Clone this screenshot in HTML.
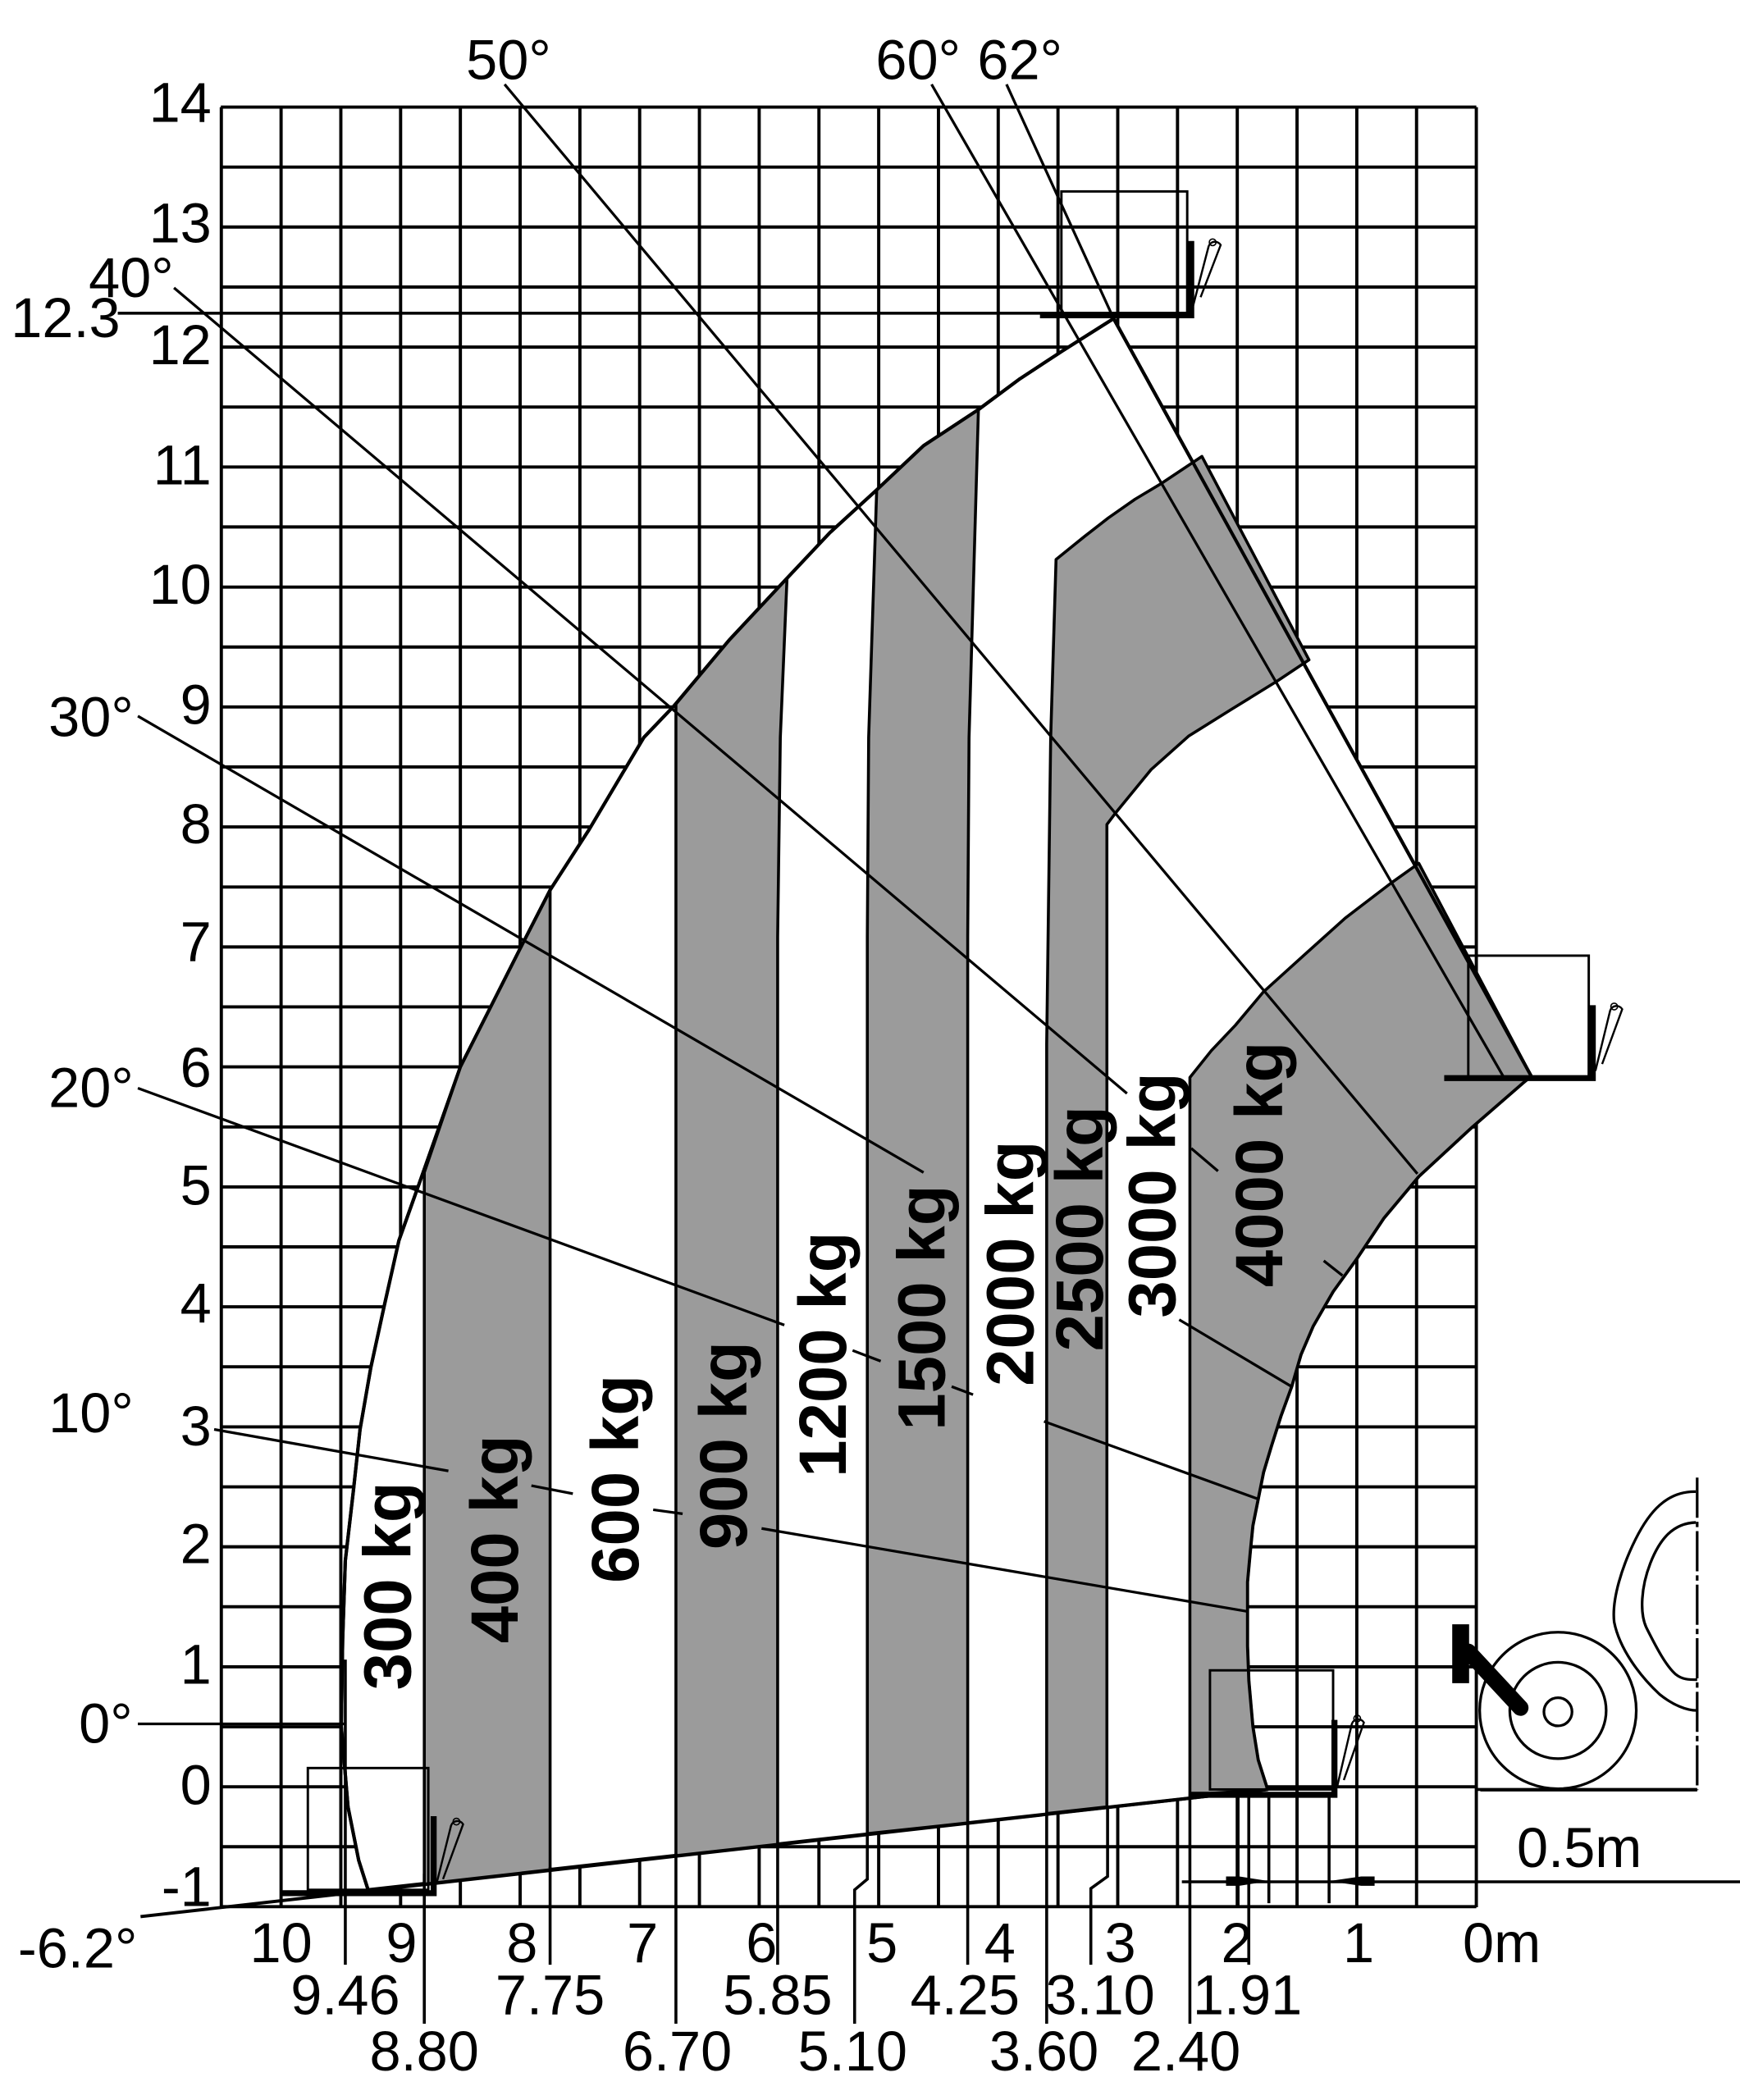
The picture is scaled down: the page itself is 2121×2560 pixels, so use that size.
<!DOCTYPE html>
<html><head><meta charset="utf-8"><style>html,body{margin:0;padding:0;background:#fff}svg{display:block}</style></head>
<body>
<svg width="2121" height="2560" viewBox="0 0 1300 1569" xmlns="http://www.w3.org/2000/svg" font-family="'Liberation Sans', sans-serif">
<rect width="1300" height="1569" fill="#fff"/>
<g stroke="#000" stroke-width="2.4">
<path d="M1103 80V1425M1058.35 80V1425M1013.7 80V1425M969.05 80V1425M924.4 80V1425M879.75 80V1425M835.1 80V1425M790.45 80V1425M745.8 80V1425M701.15 80V1425M656.5 80V1425M611.85 80V1425M567.2 80V1425M522.55 80V1425M477.9 80V1425M433.25 80V1425M388.6 80V1425M343.95 80V1425M299.3 80V1425M254.65 80V1425M210 80V1425M165.35 80V1425"/>
<path d="M165 80H1103M165 124.8H1103M165 169.6H1103M165 214.4H1103M165 259.3H1103M165 304.1H1103M165 348.9H1103M165 393.7H1103M165 438.6H1103M165 483.4H1103M165 528.2H1103M165 573H1103M165 617.8H1103M165 662.7H1103M165 707.5H1103M165 752.3H1103M165 797.1H1103M165 842H1103M165 886.8H1103M165 931.6H1103M165 976.4H1103M165 1021.2H1103M165 1066.1H1103M165 1110.9H1103M165 1155.7H1103M165 1200.5H1103M165 1245.4H1103M165 1290.2H1103M165 1335H1103M165 1379.8H1103M165 1424.6H1103"/>
</g>
<path d="M88 234H888" stroke="#000" stroke-width="2.2"/>
<path d="M1103 1337H1268" stroke="#000" stroke-width="2.2"/>
<path d="M275 1412 L268 1390 L260 1350 L255 1290 L256 1225 L258 1166 L264 1114 L269 1068 L277 1022 L287 976 L298 927 L314 882 L344 797 L390 706 L411 665 L440 620 L481 551 L503 528 L545 478 L588 432 L620 398 L655 366 L690 333 L731 306 L762 283 L794 262 L832 238 L1144 804 L1138 809 L1100 842 L1060 879 L1034 910 L1014 940 L996 965 L981 991 L972 1012 L965 1036 L957 1058 L950 1080 L944 1100 L940 1120 L936 1140 L934 1160 L932 1182 L932 1204 L932 1230 L933 1256 L936 1290 L940 1315 L947 1337 Z" fill="#fff" stroke="#000" stroke-width="2.5" stroke-linejoin="round"/>
<g fill="#9b9b9b" stroke="#000" stroke-width="2.2" stroke-linejoin="round">
<path d="M317 1407.7 L317 876 L344 797 L390 706 L411 665 L411 1397 Z"/>
<path d="M505 1386.5 L505 526 L545 478 L588 432 L583 551 L581 700 L581 1378 Z"/>
<path d="M648 1370 L648 700 L649 551 L655 366 L690 333 L731 306 L724 551 L723 700 L723 1362 Z"/>
<path d="M782 1355 L782 780 L785 551 L789 418 L810 401 L828 387 L848 373 L868 361 L898 341 L978 493 L954 509 L920 530 L888 550 L860 575 L833 608 L827 616 L827 1350 Z"/>
<path d="M889 1341 L889 805 L905 785 L923 766 L944 741 L975 713 L1005 686 L1039 660 L1060 645 L1144 804 L1138 809 L1100 842 L1060 879 L1034 910 L1014 940 L996 965 L981 991 L972 1012 L965 1036 L957 1058 L950 1080 L944 1100 L940 1120 L936 1140 L934 1160 L932 1182 L932 1204 L932 1230 L933 1256 L936 1290 L940 1315 L947 1337 Z"/>
</g>
<path d="M275 1412 L268 1390 L260 1350 L255 1290 L256 1225 L258 1166 L264 1114 L269 1068 L277 1022 L287 976 L298 927 L314 882 L344 797 L390 706 L411 665 L440 620 L481 551 L503 528 L545 478 L588 432 L620 398 L655 366 L690 333 L731 306 L762 283 L794 262 L832 238 L1144 804" fill="none" stroke="#000" stroke-width="2.5" stroke-linejoin="round"/>
<path d="M105 1432 L947 1337" stroke="#000" stroke-width="2.4"/>
<g stroke="#000" stroke-width="2" fill="none">
<path d="M103 1288H258"/>
<path d="M160 1068 L335 1099 M397 1110 L428 1116 M488 1128 L510 1131 M569 1142 L932 1204"/>
<path d="M103 813 L586 990 M637 1009 L658 1017 M711 1036 L727 1042 M780 1062 L940 1120"/>
<path d="M103 535 L690 876 M881 986 L965 1036"/>
<path d="M130 215 L842 817 M890 858 L910 875 M989 942 L1003 953"/>
<path d="M377 63 L1059 877"/>
<path d="M696 63 L1123 804"/>
<path d="M752 63 L832 238"/>
</g>
<g stroke="#000" stroke-width="2.2" fill="none">
<path d="M258 1240V1468"/>
<path d="M317 1400V1512"/>
<path d="M411 1395V1468"/>
<path d="M505 1385V1512"/>
<path d="M581 1378V1468"/>
<path d="M648 1370V1404L638.5 1412V1512"/>
<path d="M723 1362V1468"/>
<path d="M782 1355V1512"/>
<path d="M827.5 1350V1402L815 1411V1468"/>
<path d="M889 1341V1512"/>
<path d="M925 1341V1425"/>
<path d="M933 1341V1468"/>
<path d="M948 1341V1422"/>
<path d="M993 1341V1422"/>
<path d="M883 1406H1300"/>
</g>
<path d="M916 1402H926L948 1405.5L926 1409H916Z" fill="#000"/>
<path d="M1027 1402H1017L993 1405.5L1017 1409H1027Z" fill="#000"/>
<g fill="none" stroke="#000">
<rect x="793" y="143" width="94" height="92" stroke-width="1.8"/>
<path d="M777 235.5H890V180" stroke-width="4.5"/>
<path d="M891 230 L903 184 A5 5 0 0 1 912 183 L897 222" stroke-width="1.5"/>
<circle cx="906" cy="181" r="2.5" stroke-width="1"/>
<rect x="1097" y="714" width="90" height="91" stroke-width="1.8"/>
<path d="M1079 805.5H1190V751" stroke-width="4.5"/>
<path d="M1192 800 L1203 755 A5 5 0 0 1 1212 754 L1197 795" stroke-width="1.5"/>
<circle cx="1206" cy="752" r="2.5" stroke-width="1"/>
<rect x="230" y="1321" width="90" height="91" stroke-width="1.8"/>
<path d="M210 1414.5H324V1357" stroke-width="4.5"/>
<path d="M326 1408 L337 1364 A5 5 0 0 1 346 1363 L331 1404" stroke-width="1.5"/>
<circle cx="341" cy="1361" r="2.5" stroke-width="1"/>
<rect x="904" y="1248" width="92" height="89" stroke-width="1.8"/>
<path d="M889 1341H997V1285" stroke-width="4.5"/>
<path d="M999 1335 L1010 1288 A5 5 0 0 1 1019 1287 L1004 1330" stroke-width="1.5"/>
<circle cx="1014" cy="1284" r="2.5" stroke-width="1"/>
</g>
<g fill="none" stroke="#000" stroke-width="2">
<circle cx="1164" cy="1278" r="58.5"/>
<circle cx="1164" cy="1278" r="36"/>
<circle cx="1164" cy="1279" r="10.5"/>
<path d="M1106 1337.5H1268"/>
<path d="M1268 1104V1337.5" stroke-dasharray="30 3 4 3"/>
<path d="M1267 1114.5 C1245 1114 1232 1130 1222 1150 C1212 1170 1204 1195 1206 1212 C1210 1232 1225 1252 1240 1266 C1250 1274 1260 1278 1268 1278"/>
<path d="M1267 1137.5 C1250 1138 1240 1150 1233 1168 C1226 1186 1225 1205 1230 1216 C1238 1232 1245 1245 1252 1251 C1257 1255 1262 1255 1268 1255"/>
</g>
<path d="M1097 1234 L1136 1276" stroke="#000" stroke-width="12" stroke-linecap="round"/>
<rect x="1085" y="1213.6" width="12.6" height="44" fill="#000"/>
<g font-size="42" fill="#000" text-anchor="end">
<text x="158" y="91">14</text><text x="158" y="181">13</text><text x="158" y="272">12</text><text x="158" y="362">11</text><text x="158" y="451">10</text><text x="158" y="541">9</text><text x="158" y="630">8</text><text x="158" y="718">7</text><text x="158" y="812">6</text><text x="158" y="900">5</text><text x="158" y="988">4</text><text x="158" y="1080">3</text><text x="158" y="1168">2</text><text x="158" y="1258">1</text><text x="158" y="1348">0</text><text x="158" y="1424">-1</text>
</g>
<g font-size="42" fill="#000" text-anchor="middle">
<text x="210" y="1466">10</text><text x="300" y="1466">9</text><text x="390" y="1466">8</text><text x="480" y="1466">7</text><text x="569" y="1466">6</text><text x="659" y="1466">5</text><text x="747" y="1466">4</text><text x="837" y="1466">3</text><text x="924" y="1466">2</text><text x="1015" y="1466">1</text><text x="1122" y="1466">0m</text>
<text x="258" y="1505">9.46</text><text x="411" y="1505">7.75</text><text x="581" y="1505">5.85</text><text x="721" y="1505">4.25</text><text x="822" y="1505">3.10</text><text x="932" y="1505">1.91</text>
<text x="317" y="1547">8.80</text><text x="506" y="1547">6.70</text><text x="637" y="1547">5.10</text><text x="780" y="1547">3.60</text><text x="886" y="1547">2.40</text>
<text x="380" y="59">50°</text><text x="686" y="59">60°</text><text x="762" y="59">62°</text>
<text x="98" y="222">40°</text><text x="49" y="252">12.3</text>
<text x="68" y="550">30°</text><text x="68" y="827">20°</text><text x="68" y="1070">10°</text><text x="79" y="1302">0°</text><text x="58" y="1470">-6.2°</text>
<text x="1180" y="1395">0.5m</text>
</g>
<g font-size="50" font-weight="bold" fill="#000" text-anchor="middle" dominant-baseline="central">
<text transform="translate(290,1185) rotate(-90)">300 kg</text>
<text transform="translate(370,1150) rotate(-90)">400 kg</text>
<text transform="translate(460,1105) rotate(-90)">600 kg</text>
<text transform="translate(541,1080) rotate(-90)">900 kg</text>
<text transform="translate(615,1012) rotate(-90)">1200 kg</text>
<text transform="translate(689,977) rotate(-90)">1500 kg</text>
<text transform="translate(755,944) rotate(-90)">2000 kg</text>
<text transform="translate(807,918) rotate(-90)">2500 kg</text>
<text transform="translate(861,893) rotate(-90)">3000 kg</text>
<text transform="translate(941,870) rotate(-90)">4000 kg</text>
</g>
</svg>
</body></html>
